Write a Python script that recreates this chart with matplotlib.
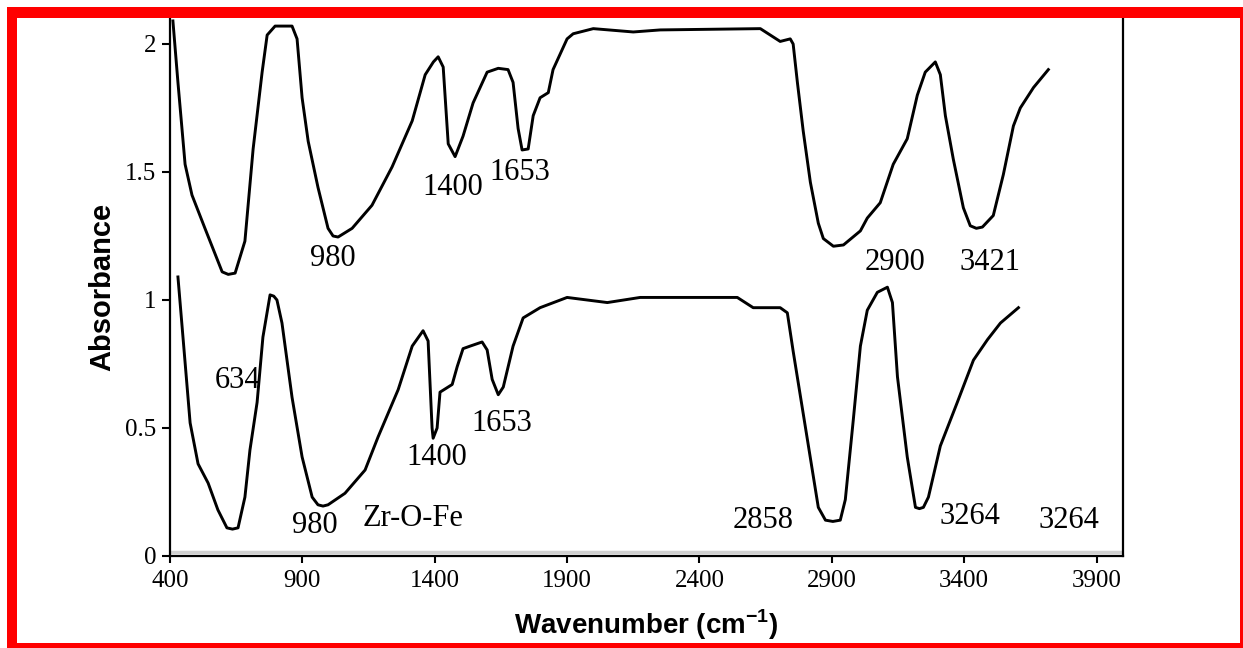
import numpy as np
import matplotlib
matplotlib.use('Agg')
import matplotlib.pyplot as plt
from matplotlib.patches import Rectangle

plt.rcParams['mathtext.fontset'] = 'custom'
plt.rcParams['mathtext.rm'] = 'Liberation Sans'
plt.rcParams['mathtext.bf'] = 'Liberation Sans:bold'

# upper spectrum
top_x = [411, 430, 457, 483, 532, 597, 620, 646, 683, 714, 748, 767, 797, 861, 880, 899, 922,
         959, 997, 1016, 1035, 1088, 1163, 1239, 1315, 1364, 1395, 1413, 1432, 1451, 1477, 1507, 1545,
         1598, 1640, 1677, 1696, 1715, 1730, 1753, 1772, 1798, 1829, 1847, 1900, 1923, 1999, 2150,
         2252, 2630, 2705, 2743, 2754, 2770, 2792, 2819, 2849, 2868, 2906, 2944, 3008, 3034,
         3083, 3132, 3185, 3223, 3253, 3291, 3310, 3329, 3359, 3397, 3423, 3446, 3469, 3510, 3548,
         3586, 3612, 3662, 3718]
top_y = [2.09, 1.85, 1.53, 1.41, 1.28, 1.11, 1.10, 1.105, 1.23, 1.59, 1.89, 2.035, 2.07, 2.07, 2.02,
         1.79, 1.62, 1.44, 1.28, 1.25, 1.246, 1.28, 1.37, 1.52, 1.70, 1.88, 1.93, 1.95, 1.91, 1.61, 1.56,
         1.64, 1.77, 1.89, 1.905, 1.90, 1.85, 1.67, 1.586, 1.59, 1.72, 1.79, 1.81, 1.90, 2.02, 2.04,
         2.06, 2.047, 2.055, 2.06, 2.01, 2.02, 2.00, 1.85, 1.66, 1.46, 1.30, 1.24, 1.21, 1.215,
         1.27, 1.32, 1.38, 1.53, 1.63, 1.80, 1.89, 1.93, 1.88, 1.72, 1.55, 1.36, 1.29, 1.28, 1.285,
         1.33, 1.49, 1.68, 1.75, 1.83, 1.90]

# lower spectrum
bot_x = [430, 449, 476, 506, 544, 581, 615, 636, 657, 683, 702, 729, 751, 778, 792, 804, 823, 861, 899,
         937, 959, 978, 997, 1061, 1137, 1186, 1262, 1315, 1356, 1375, 1390, 1394, 1409, 1420, 1466,
         1485, 1507, 1534, 1579, 1598, 1617, 1640, 1659, 1696, 1734, 1798, 1900, 1976, 2052,
         2176, 2376, 2543, 2603, 2705, 2732, 2754, 2807, 2849, 2876, 2904, 2932, 2951,
         2981, 3008, 3034, 3072, 3110, 3129, 3148, 3185, 3216, 3231, 3246, 3265, 3310, 3374, 3435,
         3488, 3537, 3605]
bot_y = [1.09, 0.855, 0.52, 0.36, 0.285, 0.18, 0.11, 0.105, 0.11, 0.23, 0.414, 0.60, 0.855, 1.02, 1.015, 1.00,
         0.91, 0.62, 0.387, 0.23, 0.20, 0.195, 0.20, 0.245, 0.336, 0.465, 0.65, 0.82, 0.88, 0.84, 0.50,
         0.46, 0.50, 0.64, 0.67, 0.74, 0.81, 0.82, 0.836, 0.805, 0.69, 0.63, 0.66, 0.82, 0.93,
         0.97, 1.01, 1.00, 0.99, 1.01, 1.01, 1.01, 0.97, 0.97, 0.95, 0.80, 0.46,
         0.19, 0.14, 0.135, 0.14, 0.22, 0.53, 0.82, 0.96, 1.03, 1.05, 0.99, 0.70, 0.387, 0.19, 0.185, 0.19,
         0.23, 0.43, 0.60, 0.765, 0.845, 0.91, 0.97]

# peak labels (text, x, y)
labels_txt = ['980', '1400', '1653', '2900', '3421',
              '634', '980', 'Zr-O-Fe', '1400', '1653', '2858', '3264', '3264']
labels_x = [1016, 1469, 1723, 3140, 3499,
            657, 948, 1318, 1409, 1655, 2641, 3423, 3794]
labels_y = [1.164, 1.44, 1.50, 1.145, 1.145,
            0.684, 0.12, 0.148, 0.383, 0.516, 0.14, 0.156, 0.14]

xticks = [400, 900, 1400, 1900, 2400, 2900, 3400, 3900]
yticks = [0, 0.5, 1, 1.5, 2]
ytick_labels = ['0', '0.5', '1', '1.5', '2']

fig = plt.figure(figsize=(12.43, 6.48), dpi=100)
ax = fig.add_axes([170/1243, 1-556/648, (1123-170)/1243, (556-18.4)/648])

ax.plot(top_x, top_y, color='black', lw=2.1, solid_joinstyle='round')
ax.plot(bot_x, bot_y, color='black', lw=2.1, solid_joinstyle='round')

for t, x, y in zip(labels_txt, labels_x, labels_y):
    ax.text(x, y, t, ha='center', va='center', fontsize=22, family='Liberation Serif')

ax.set_xlim(400, 4000)
ax.set_ylim(0, 2.1)
ax.set_xticks(xticks)
ax.set_xticklabels([str(v) for v in xticks], family='Liberation Serif', fontsize=18)
ax.set_yticks(yticks)
ax.set_yticklabels(ytick_labels, family='Liberation Serif', fontsize=18)
ax.tick_params(axis='y', direction='out', length=6, width=1.5, pad=4)
ax.tick_params(axis='x', direction='out', length=5, width=1.5, pad=5)

ax.spines['top'].set_visible(False)
for s in ['left', 'bottom', 'right']:
    ax.spines[s].set_linewidth(1.6)

# light grey shadow line above the x axis
ax.plot([0, 1], [0.007, 0.007], transform=ax.transAxes, color='#d0d0d0', lw=2.5)

ax.set_xlabel(r'Wavenumber (cm$^{\mathbf{-1}}$)', family='Liberation Sans',
              fontweight='bold', fontsize=20, labelpad=11)
ax.set_ylabel('Absorbance', family='Liberation Sans', fontweight='bold',
              fontsize=21, labelpad=6)

# red frame around the figure
W, H = 1243, 648
for x0, y0, w, h in [(7, 7, 1236, 11), (7, 7, 10, 641), (7, 643, 1236, 5), (1240, 7, 3, 641)]:
    fig.add_artist(Rectangle((x0/W, 1-(y0+h)/H), w/W, h/H, transform=fig.transFigure,
                             color='red', lw=0))

fig.savefig('out.png', dpi=100)
